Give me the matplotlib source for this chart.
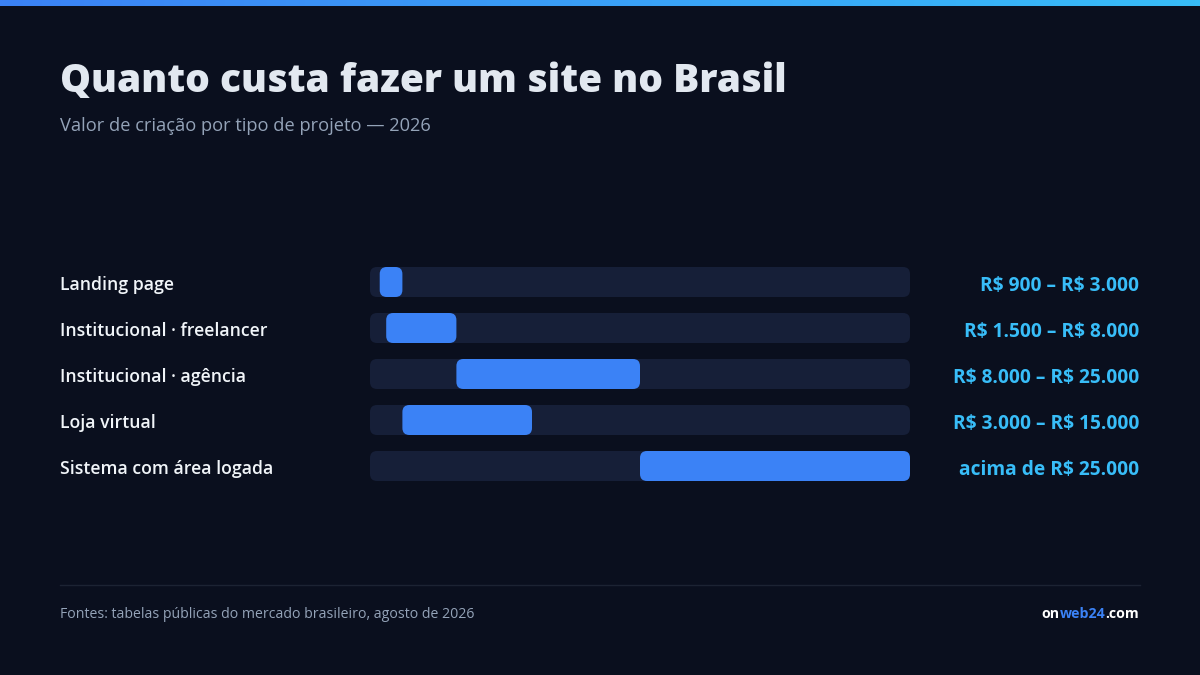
import matplotlib
matplotlib.use("Agg")
import matplotlib.pyplot as plt
from matplotlib.patches import FancyBboxPatch
from matplotlib.colors import LinearSegmentedColormap
import numpy as np

categories = ["Landing page", "Institucional · freelancer", "Institucional · agência",
              "Loja virtual", "Sistema com área logada"]
low = [900, 1500, 8000, 3000, 25000]
high = [3000, 8000, 25000, 15000, 50000]
value_labels = ["R$ 900 – R$ 3.000", "R$ 1.500 – R$ 8.000", "R$ 8.000 – R$ 25.000",
                "R$ 3.000 – R$ 15.000", "acima de R$ 25.000"]
scale_max = 50000

title = "Quanto custa fazer um site no Brasil"
subtitle = "Valor de criação por tipo de projeto — 2026"
source = "Fontes: tabelas públicas do mercado brasileiro, agosto de 2026"
brand_parts = ["on", "web24", ".com"]

BG = "#0a0f1e"
TRACK = "#161f38"
BAR = "#3b82f6"
VAL = "#38bdf8"
TITLE_C = "#e2e8f0"
SUB_C = "#94a3b8"

plt.rcParams["text.parse_math"] = False
FF = ["Open Sans", "DejaVu Sans"]

W, H = 1200, 675
fig = plt.figure(figsize=(12, 6.75), dpi=100)
fig.patch.set_facecolor(BG)
renderer = fig.canvas.get_renderer()

ov = fig.add_axes([0, 0, 1, 1])
ov.axis("off")

grad = np.linspace(0, 1, 256).reshape(1, -1)
cm = LinearSegmentedColormap.from_list("g", ["#3b82f6", "#38bdf8"])
ov.imshow(grad, extent=[0, W, 6, 0], aspect="auto", cmap=cm, zorder=1)
ov.set_xlim(0, W)
ov.set_ylim(H, 0)


def fit(t, target_w):
    bb = t.get_window_extent(renderer)
    t.set_fontsize(t.get_fontsize() * target_w / bb.width)


t = ov.text(60, 92, title, fontsize=30, fontweight=800, color=TITLE_C,
            va="baseline", ha="left", family=FF)
fit(t, 728)
t = ov.text(60, 131, subtitle, fontsize=13, fontweight=400, color=SUB_C,
            va="baseline", ha="left", family=FF)
fit(t, 368)

row_h = 46
top_px = 282 - row_h / 2
bot_px = 466 + row_h / 2
ax = fig.add_axes([370 / W, 1 - bot_px / H, 540 / W, (bot_px - top_px) / H])
ax.set_xlim(0, scale_max)
n = len(categories)
ax.set_ylim(n - 0.5, -0.5)
ax.axis("off")
ax.patch.set_alpha(0)

xu_per_px = scale_max / 540
yu_per_px = 1 / row_h
aspect = yu_per_px / xu_per_px
bar_h = 30 * yu_per_px
r = 7 * xu_per_px

lab_fs = None
val_fs = None
for i, cat in enumerate(categories):
    ax.add_patch(FancyBboxPatch((0, i - bar_h / 2), scale_max, bar_h,
                                boxstyle=f"round,pad=0,rounding_size={r}",
                                mutation_aspect=aspect, fc=TRACK, ec="none", zorder=1))
    ax.add_patch(FancyBboxPatch((low[i], i - bar_h / 2), high[i] - low[i], bar_h,
                                boxstyle=f"round,pad=0,rounding_size={r}",
                                mutation_aspect=aspect, fc=BAR, ec="none", zorder=2))
    ypx = 282 + row_h * i
    tl = ov.text(60, ypx + 8.5, cat, fontsize=13, fontweight=600, color="#f1f5f9",
                 va="baseline", ha="left", family=FF)
    tv = ov.text(1139, ypx + 8.5, value_labels[i], fontsize=13, fontweight=700, color=VAL,
                 va="baseline", ha="right", family=FF)
    if i == 1:
        fit(tl, 207)
        lab_fs = tl.get_fontsize()
    if i == 2:
        fit(tv, 184)
        val_fs = tv.get_fontsize()

for t in ov.texts:
    if t.get_text() in categories:
        t.set_fontsize(lab_fs)
    elif t.get_text() in value_labels:
        t.set_fontsize(val_fs)

ov.plot([60, 1140], [584.5, 584.5], color="#1c2333", lw=1)
ts = ov.text(60, 618.5, source, fontsize=10.5, color=SUB_C, va="baseline", ha="left", family=FF)
fit(ts, 415)

colors = ["#ffffff", BAR, "#ffffff"]
texts = [ov.text(0, 618.5, s, fontsize=10.5, fontweight=700, color=c, va="baseline",
                 ha="left", family=FF) for s, c in zip(brand_parts, colors)]
widths = [t.get_window_extent(renderer).width for t in texts]
scale = 98 / sum(widths)
for t in texts:
    t.set_fontsize(t.get_fontsize() * scale)
widths = [t.get_window_extent(renderer).width for t in texts]
x = 1139 - sum(widths)
for t, w in zip(texts, widths):
    t.set_x(x)
    x += w

fig.savefig("out.png", dpi=100, facecolor=BG)
